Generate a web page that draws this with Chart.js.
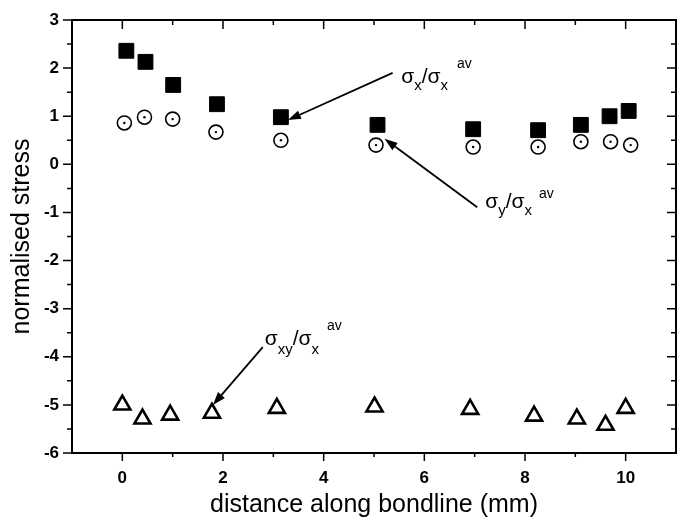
<!DOCTYPE html>
<html>
<head>
<meta charset="utf-8">
<script src="https://cdn.jsdelivr.net/npm/chart.js@4"></script>
<style>
  html, body { margin: 0; padding: 0; background: #fff; }
  #wrap { width: 677px; height: 529px; }
</style>
</head>
<body>
<div id="wrap"><canvas id="c" width="677" height="529"></canvas></div>
<script>
// ---- data ----
const sxX  = [0.08, 0.46, 1.01, 1.88, 3.15, 5.07, 6.97, 8.26, 9.11, 9.68, 10.06];
const sxY  = [2.36, 2.13, 1.65, 1.25, 0.98, 0.82, 0.73, 0.71, 0.82, 1.00, 1.11];
const syX  = [0.04, 0.44, 1.00, 1.86, 3.15, 5.04, 6.97, 8.26, 9.11, 9.70, 10.10];
const syY  = [0.86, 0.98, 0.94, 0.67, 0.50, 0.40, 0.36, 0.36, 0.47, 0.47, 0.40];
const sxyX = [0.00, 0.40, 0.95, 1.78, 3.07, 5.01, 6.91, 8.18, 9.03, 9.60, 10.00];
const sxyY = [-5.00, -5.29, -5.21, -5.17, -5.07, -5.04, -5.09, -5.23, -5.29, -5.42, -5.07];
const xTickLabels = [0, 2, 4, 6, 8, 10];
const xMinorTicks = [1, 3, 5, 7, 9];
const yTickLabels = [-6, -5, -4, -3, -2, -1, 0, 1, 2, 3];
const yMinorTicks = [-5.5, -4.5, -3.5, -2.5, -1.5, -0.5, 0.5, 1.5, 2.5];
const xRange = [-1, 11];
const yRange = [-6, 3];
const xTitle = 'distance along bondline (mm)';
const yTitle = 'normalised stress';
// annotation labels: anchor [x,y] in data units, arrow tail/head in data units
const annotations = [
  { at: [5.54, 1.69], tail: [5.37, 1.90], head: [3.29, 0.92],
    parts: [['σ',21,0],['x',15,7],['/',21,0],['σ',21,0],['x',15,7]], sup: ['av', 14, -15, 9] },
  { at: [7.21, -0.91], tail: [7.05, -0.89], head: [5.21, 0.53],
    parts: [['σ',21,0],['y',15,7],['/',21,0],['σ',21,0],['x',15,7]], sup: ['av', 14, -10, 7] },
  { at: [2.83, -3.76], tail: [2.79, -3.80], head: [1.80, -5.00],
    parts: [['σ',21,0],['xy',15,9],['/',21,0],['σ',21,0],['x',15,9]], sup: ['av', 14, -15, 8] }
];

const FONT = "'Liberation Sans', Arial, Helvetica, sans-serif";
const toPts = (xs, ys) => xs.map((v, i) => ({ x: v, y: ys[i] }));

const frameTicks = {
  id: 'frameTicks',
  afterDatasetsDraw(chart) {
    const { ctx, chartArea: a, scales: { x, y } } = chart;
    ctx.save();
    ctx.strokeStyle = '#000';
    ctx.lineWidth = 2;
    ctx.strokeRect(a.left, a.top, a.right - a.left, a.bottom - a.top);
    ctx.lineWidth = 1.5;
    ctx.beginPath();
    const MAJ = 9, MIN = 5;
    xTickLabels.forEach(v => {
      const px = x.getPixelForValue(v);
      ctx.moveTo(px, a.bottom); ctx.lineTo(px, a.bottom + 8);
      ctx.moveTo(px, a.top); ctx.lineTo(px, a.top + MAJ);
    });
    xMinorTicks.forEach(v => {
      const px = x.getPixelForValue(v);
      ctx.moveTo(px, a.bottom); ctx.lineTo(px, a.bottom + 4);
      ctx.moveTo(px, a.top); ctx.lineTo(px, a.top + MIN);
    });
    yTickLabels.forEach(v => {
      const py = y.getPixelForValue(v);
      ctx.moveTo(a.left, py); ctx.lineTo(a.left - MAJ, py);
      ctx.moveTo(a.right, py); ctx.lineTo(a.right - MAJ, py);
    });
    yMinorTicks.forEach(v => {
      const py = y.getPixelForValue(v);
      ctx.moveTo(a.left, py); ctx.lineTo(a.left - MIN, py);
      ctx.moveTo(a.right, py); ctx.lineTo(a.right - MIN, py);
    });
    ctx.stroke();

    // annotations
    ctx.fillStyle = '#000';
    ctx.textBaseline = 'alphabetic';
    ctx.textAlign = 'left';
    annotations.forEach(an => {
      let cx = x.getPixelForValue(an.at[0]);
      const by = y.getPixelForValue(an.at[1]);
      an.parts.forEach(([t, s, dy]) => {
        ctx.font = s + 'px ' + FONT;
        ctx.fillText(t, cx, by + dy);
        cx += ctx.measureText(t).width;
      });
      const [st, ss, sdy, gap] = an.sup;
      ctx.font = ss + 'px ' + FONT;
      ctx.fillText(st, cx + gap, by + sdy);
      // arrow
      const tx = x.getPixelForValue(an.tail[0]), ty = y.getPixelForValue(an.tail[1]);
      const hx = x.getPixelForValue(an.head[0]), hy = y.getPixelForValue(an.head[1]);
      const ang = Math.atan2(hy - ty, hx - tx);
      const L = 13, W = 4.5;
      const bx = hx - L * Math.cos(ang), bY = hy - L * Math.sin(ang);
      ctx.lineWidth = 1.8;
      ctx.beginPath();
      ctx.moveTo(tx, ty); ctx.lineTo(bx, bY);
      ctx.stroke();
      ctx.beginPath();
      ctx.moveTo(hx, hy);
      ctx.lineTo(bx + W * Math.sin(ang), bY - W * Math.cos(ang));
      ctx.lineTo(bx - W * Math.sin(ang), bY + W * Math.cos(ang));
      ctx.closePath();
      ctx.fill();
    });
    ctx.restore();
  }
};

new Chart(document.getElementById('c'), {
  type: 'scatter',
  data: {
    datasets: [
      { data: toPts(sxX, sxY), pointStyle: 'rect', pointRadius: 10.5, pointHoverRadius: 10.5,
        backgroundColor: '#000', borderColor: '#000', borderWidth: 1 },
      { data: toPts(syX, syY), pointStyle: 'circle', pointRadius: 7, pointHoverRadius: 7,
        backgroundColor: 'rgba(255,255,255,0)', borderColor: '#000', borderWidth: 1.6 },
      { data: toPts(syX, syY), pointStyle: 'circle', pointRadius: 1.2, pointHoverRadius: 1.2,
        backgroundColor: '#000', borderColor: '#000', borderWidth: 0 },
      { data: toPts(sxyX, sxyY), pointStyle: 'triangle', pointRadius: 9.3, pointHoverRadius: 9.3,
        backgroundColor: 'rgba(255,255,255,0)', borderColor: '#000', borderWidth: 2.6 }
    ]
  },
  options: {
    responsive: false,
    animation: false,
    events: [],
    layout: { autoPadding: false, padding: { top: 20, right: 1, left: 0, bottom: 0 } },
    plugins: { legend: { display: false }, tooltip: { enabled: false } },
    scales: {
      x: {
        type: 'linear', min: xRange[0], max: xRange[1],
        afterBuildTicks: s => { s.ticks = xTickLabels.map(v => ({ value: v })); },
        afterFit: s => { s.height = 76; s.paddingLeft = 0; s.paddingRight = 0; },
        grid: { display: false, drawTicks: false },
        border: { display: false },
        ticks: { color: '#000', padding: 15, font: { family: FONT, size: 17, weight: 'bold' } },
        title: { display: true, text: xTitle, color: '#000', padding: { bottom: 9 },
                 font: { family: FONT, size: 25 } }
      },
      y: {
        type: 'linear', min: yRange[0], max: yRange[1],
        afterBuildTicks: s => { s.ticks = yTickLabels.map(v => ({ value: v })); },
        afterFit: s => { s.width = 72; s.paddingTop = 0; s.paddingBottom = 0; },
        grid: { display: false, drawTicks: false },
        border: { display: false },
        ticks: { color: '#000', padding: 13, font: { family: FONT, size: 17, weight: 'bold' } },
        title: { display: true, text: yTitle, color: '#000', padding: { top: 7 },
                 font: { family: FONT, size: 25 } }
      }
    }
  },
  plugins: [frameTicks]
});
</script>
</body>
</html>
